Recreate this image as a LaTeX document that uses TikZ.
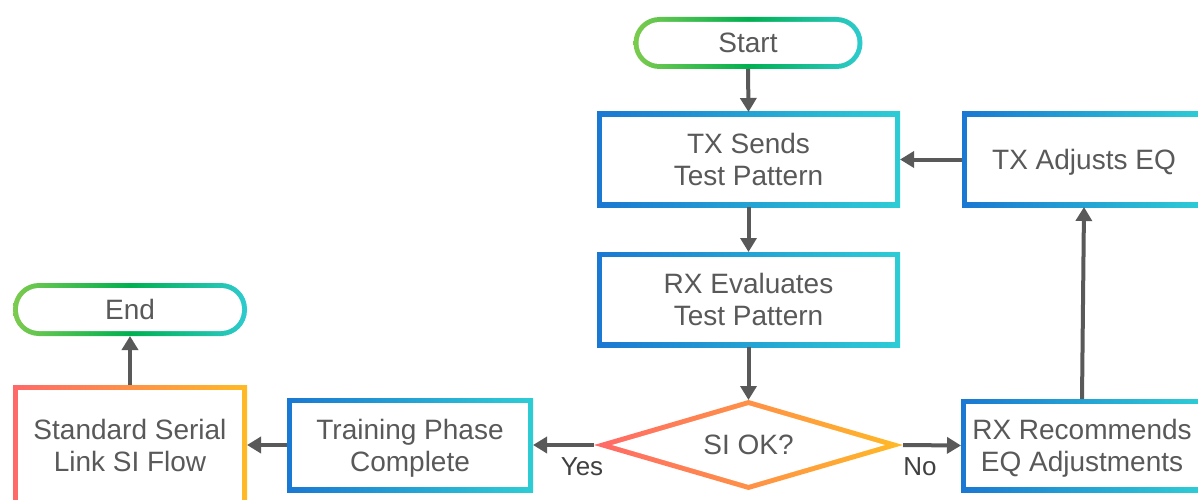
\documentclass[tikz,border=0pt]{standalone}
\usepackage{fontspec}
\setmainfont{Liberation Sans}
\usetikzlibrary{arrows.meta,backgrounds}

\definecolor{inkgray}{HTML}{595959}
\definecolor{labelgray}{HTML}{404040}
\definecolor{blueL}{HTML}{1A78D2}
\definecolor{blueR}{HTML}{2DCDD5}
\definecolor{greenL}{HTML}{7CCB4E}
\definecolor{greenM}{HTML}{00B050}
\definecolor{greenR}{HTML}{2ECBCF}
\definecolor{redL}{HTML}{FF6868}
\definecolor{redR}{HTML}{FFBA25}

\tikzset{
  txt/.style={shape=rectangle, inner sep=0pt, outer sep=0pt, align=center,
    text depth=0pt, text=inkgray, font=\fontsize{28}{32}\selectfont},
  lbl/.style={inner sep=0pt, text=labelgray, font=\fontsize{26}{30}\selectfont},
  arr/.style={draw=inkgray, line width=4pt,
    -{Triangle[length=14pt,width=16pt]}},
  blueband/.style={left color=blueL, right color=blueR},
  greenband/.style={left color=greenL, right color=greenR, middle color=greenM},
  redband/.style={left color=redL, right color=redR},
}

% gradient frame of a box node: shaded outer area, white inside
\newcommand{\gradboxrim}[2]{%
  \shade[#2] (#1.south west) rectangle (#1.north east);
  \fill[white] ([shift={(5pt,5pt)}]#1.south west) rectangle ([shift={(-5pt,-5pt)}]#1.north east);}
% gradient frame of a terminal (stadium) node
\newcommand{\gradpillrim}[2]{%
  \shade[#2, rounded corners=26pt] (#1.south west) rectangle (#1.north east);
  \fill[white, rounded corners=21pt] ([shift={(5pt,5pt)}]#1.south west) rectangle ([shift={(-5pt,-5pt)}]#1.north east);}

\begin{document}
\begin{tikzpicture}[x=1pt, y=1pt]
\useasboundingbox (0,0) rectangle (1198,499);
\clip (0,0) rectangle (1198,499);

% nodes
\node[txt, minimum width=229pt, minimum height=52pt] (start) at (748,456) {Start};
\node[txt, minimum width=303pt, minimum height=95pt] (txs) at (748.5,339.5) {TX Sends\\Test Pattern};
\node[txt, minimum width=244pt, minimum height=95pt] (txa) at (1084,339.5) {TX Adjusts EQ};
\node[txt, minimum width=303pt, minimum height=95pt] (rxe) at (748.5,199.5) {RX Evaluates\\Test Pattern};
\node[txt, minimum width=309pt, minimum height=90pt] (dec) at (748.5,54) {SI OK?};
\node[txt, minimum width=242pt, minimum height=93pt] (rxr) at (1082,53.5) {RX Recommends\\EQ Adjustments};
\node[txt, minimum width=246pt, minimum height=94pt] (tpc) at (410,54) {Training Phase\\Complete};
\node[txt, minimum width=234pt, minimum height=120pt] (ssl) at (130,54) {Standard Serial\\Link SI Flow};
\node[txt, minimum width=234pt, minimum height=53pt] (fin) at (130,189.5) {End};

% gradient outlines
\begin{scope}[on background layer]
  \gradpillrim{start}{greenband}
  \gradpillrim{fin}{greenband}
  \gradboxrim{txs}{blueband}
  \gradboxrim{txa}{blueband}
  \gradboxrim{rxe}{blueband}
  \gradboxrim{rxr}{blueband}
  \gradboxrim{tpc}{blueband}
  \gradboxrim{ssl}{redband}
  \shade[redband] (dec.west) -- (dec.north) -- (dec.east) -- (dec.south) -- cycle;
  \fill[white] ([xshift=18pt]dec.west) -- ([yshift=-5.2pt]dec.north)
     -- ([xshift=-18pt]dec.east) -- ([yshift=5.2pt]dec.south) -- cycle;
\end{scope}

% connectors
\draw[arr] (start.south) -- (txs.north);
\draw[arr] (txs.south) -- (rxe.north);
\draw[arr] (rxe.south) -- (dec.north);
\draw[arr] (dec.east) -- (rxr.west);
\draw[arr] (rxr.north) -- (txa.south);
\draw[arr] (txa.west) -- (txs.east);
\draw[arr] (dec.west) -- (tpc.east);
\draw[arr] (tpc.west) -- (ssl.east);
\draw[arr] (ssl.north) -- (fin.south);

% branch labels
\node[lbl] (yes) at (582,32) {Yes};
\node[lbl] (no) at (920,32) {No};
\end{tikzpicture}
\end{document}
